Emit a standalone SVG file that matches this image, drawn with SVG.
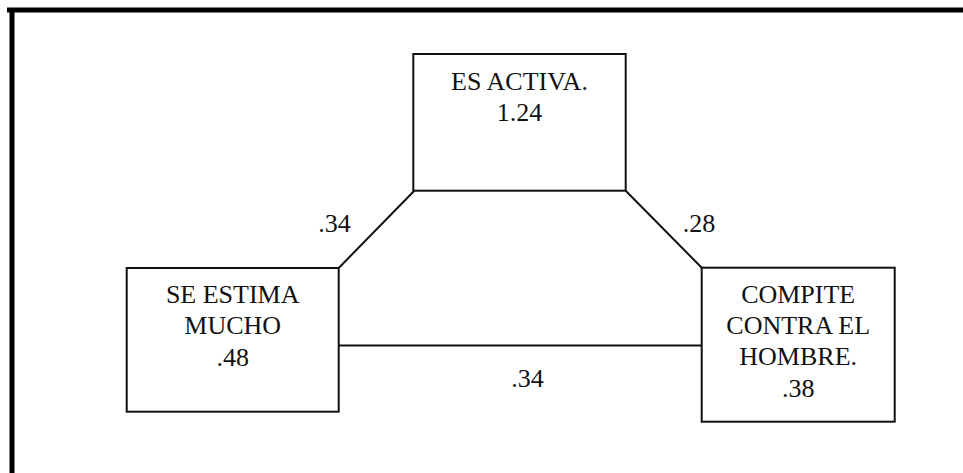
<svg xmlns="http://www.w3.org/2000/svg" width="963" height="473" viewBox="0 0 963 473">
<style>
.box{fill:#fff;stroke:#111;stroke-width:2}
.ln{fill:none;stroke:#111;stroke-width:2}
text{font-family:"Liberation Serif","Times New Roman",serif;font-size:26px;fill:#111;text-anchor:middle}
</style>
<rect width="963" height="473" fill="#fff"/>
<g id="frame">
<line x1="7" y1="10" x2="963" y2="10" stroke="#000" stroke-width="5"/>
<line x1="12" y1="8" x2="12" y2="473" stroke="#000" stroke-width="5"/>
</g>
<g id="connectors">
<polyline class="ln" points="338.7,268 414.3,190.7"/>
<polyline class="ln" points="625.7,190.7 701.7,267.7"/>
<line class="ln" x1="338.7" y1="345.5" x2="701.7" y2="345.5"/>
<text x="334.5" y="232">.34</text>
<text x="699" y="232">.28</text>
<text x="527.5" y="387">.34</text>
</g>
<g id="node-activa">
<rect class="box" x="413.3" y="54" width="212.4" height="136.7"/>
<text x="519.5" y="90">ES ACTIVA.</text>
<text x="519.5" y="121">1.24</text>
</g>
<g id="node-estima">
<rect class="box" x="126.7" y="268" width="212" height="143.7"/>
<text x="232.7" y="303">SE ESTIMA</text>
<text x="232.7" y="334">MUCHO</text>
<text x="232.7" y="366">.48</text>
</g>
<g id="node-compite">
<rect class="box" x="701.7" y="267.7" width="193" height="154"/>
<text x="798.2" y="302.7">COMPITE</text>
<text x="798.2" y="334">CONTRA EL</text>
<text x="798.2" y="365">HOMBRE.</text>
<text x="798.2" y="396.7">.38</text>
</g>
</svg>
